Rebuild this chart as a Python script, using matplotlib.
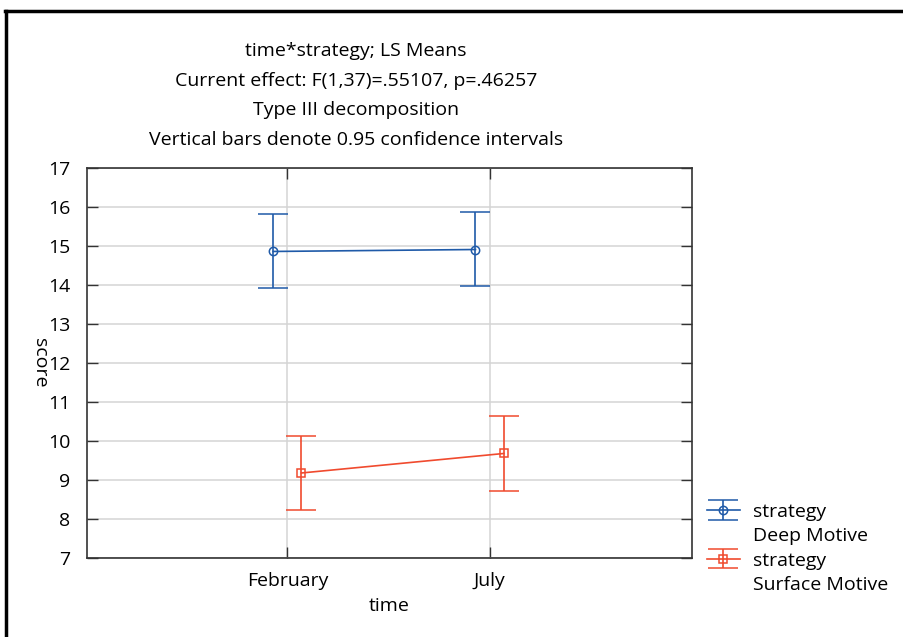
import numpy as np
import matplotlib
matplotlib.use("Agg")
import matplotlib.pyplot as plt
from matplotlib.lines import Line2D

# data
times = ["February", "July"]
deep_mean = [14.86, 14.91]
deep_lo = [13.92, 13.97]
deep_hi = [15.83, 15.88]
surf_mean = [9.18, 9.68]
surf_lo = [8.22, 8.71]
surf_hi = [10.13, 10.64]

title_lines = ["time*strategy; LS Means",
               "Current effect: F(1,37)=.55107, p=.46257",
               "Type III decomposition",
               "Vertical bars denote 0.95 confidence intervals"]

plt.rcParams['font.family'] = ['Open Sans', 'DejaVu Sans']
blue = "#1f5aa8"
red = "#f04a2e"
fs = 14

fig = plt.figure(figsize=(9.04, 6.37), dpi=100)
ax = fig.add_axes([87/904, 1-558/637, (692-87)/904, (558-168)/637])

x = np.arange(len(times))
off = 0.07
dm = np.array(deep_mean); sm = np.array(surf_mean)
e1 = ax.errorbar(x - off, dm, yerr=[dm - np.array(deep_lo), np.array(deep_hi) - dm],
                 color=blue, lw=1.2, marker="o", ms=6, mfc="none", mew=1.1,
                 capsize=11, capthick=1.2, elinewidth=1.2, zorder=3)
e2 = ax.errorbar(x + off, sm, yerr=[sm - np.array(surf_lo), np.array(surf_hi) - sm],
                 color=red, lw=1.2, marker="s", ms=6, mfc="none", mew=1.1,
                 capsize=11, capthick=1.2, elinewidth=1.2, zorder=3)

ax.set_xlim(-0.99, 2.0)
ax.set_ylim(7, 17)
ax.set_yticks(range(7, 18))
ax.set_xticks(x)
ax.set_xticklabels(times)
ax.grid(True, color="#d4d4d4", lw=1.1)
ax.set_axisbelow(True)
ax.tick_params(direction="in", length=8, width=1, color="#333333",
               labelsize=fs, top=True, right=True, pad=10)
ax.tick_params(axis="y", pad=12)
for s in ax.spines.values():
    s.set_color("#333333")
    s.set_linewidth(1.2)
ax.set_xlabel("time", fontsize=fs, labelpad=5)
ax.set_ylabel("score", fontsize=fs, rotation=270, labelpad=12)

for i, t in enumerate(title_lines):
    fig.text(356/904, 1-(51 + i*29.5)/637, t, ha="center", va="center", fontsize=fs)

blank = Line2D([], [], color="none")
leg = fig.legend([e1, blank, e2, blank],
                 ["strategy", "Deep Motive", "strategy", "Surface Motive"],
                 loc="upper left", bbox_to_anchor=(697/904, 1-493/637),
                 frameon=False, fontsize=fs, handlelength=1.7, handletextpad=0.7,
                 labelspacing=0.33, borderpad=0)

# partial frame around the figure
fig.add_artist(Line2D([5/904, 1], [1-11/637, 1-11/637], color="black", lw=2.5))
fig.add_artist(Line2D([6/904, 6/904], [0, 1-11/637], color="black", lw=2.5))

fig.savefig("out.png", dpi=100)
